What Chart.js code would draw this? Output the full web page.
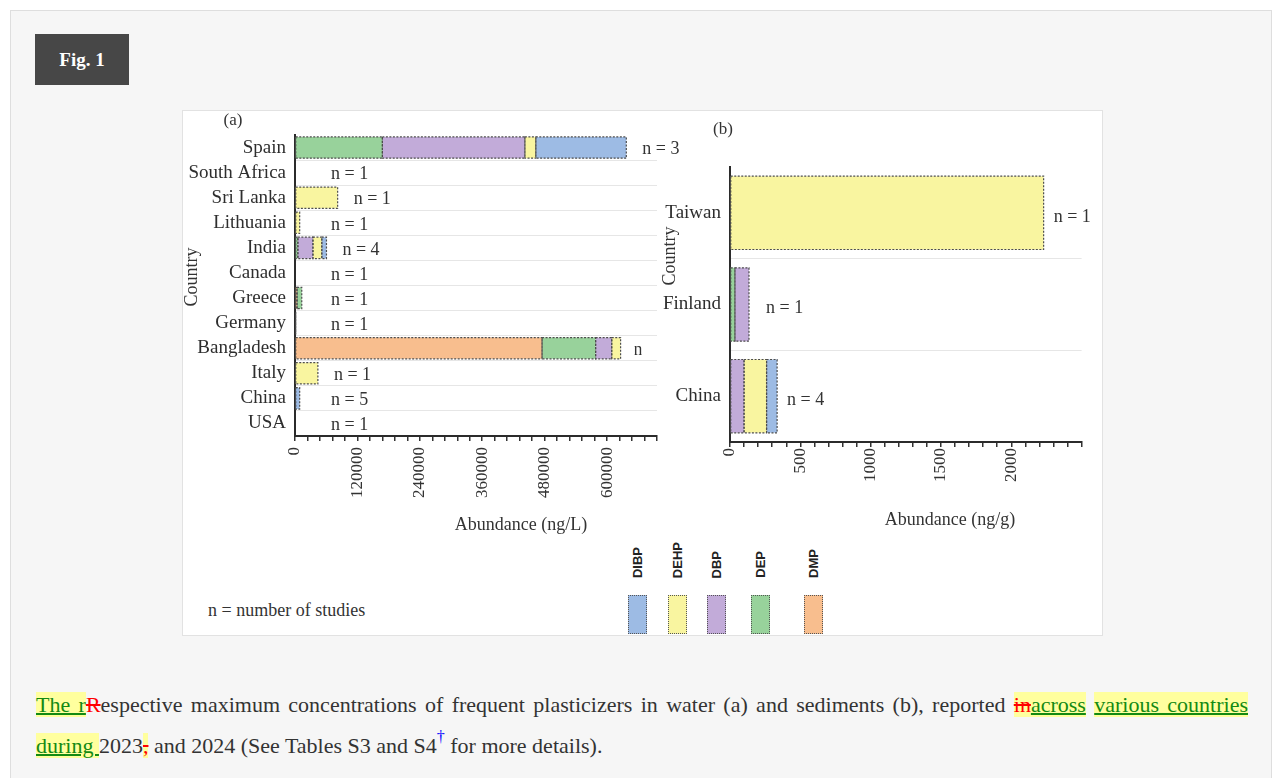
<!DOCTYPE html>
<html>
<head>
<meta charset="utf-8">
<script src="https://cdn.jsdelivr.net/npm/chart.js@4.4.1/dist/chart.umd.min.js"></script>
<style>
  body { margin: 0; background: #fff; width: 1276px; height: 778px; overflow: hidden;
         font-family: 'Liberation Serif', 'Times New Roman', serif; color: #333; }
  .frame { position: absolute; left: 10px; top: 10px; width: 1260px; height: 800px;
           background: #f6f6f6; border: 1px solid #dedede; }
  .tag { position: absolute; left: 35px; top: 34px; width: 94px; height: 51px; background: #474747;
         color: #fff; font-weight: bold; font-size: 19px; line-height: 51px; text-align: center; }
  .figure { position: absolute; left: 182px; top: 110px; width: 921px; height: 526px; background: #fff;
            border: 1px solid #e2e2e2; box-sizing: border-box; overflow: hidden; }
  #chartA { position: absolute; left: -1px; top: -1px; }
  #chartB { position: absolute; left: 469px; top: -1px; }
  .note { position: absolute; left: 25px; top: 488px; font-size: 18px; line-height: 22px; color: #333; }
  .key-label { position: absolute; top: 430px; width: 19px; height: 37px; display: flex;
               align-items: flex-end; justify-content: center; }
  .key-label span { writing-mode: vertical-rl; transform: rotate(180deg); font: bold 13px 'Liberation Sans', Arial, sans-serif; color: #222; }
  .key-box { position: absolute; top: 484px; width: 19px; height: 39px; box-sizing: border-box;
             border: 1.5px dotted #555; }
  .caption { position: absolute; left: 36px; top: 684px; width: 1212px; font-size: 22px; line-height: 41px; color: #333; }
  .caption .l1 { text-align: justify; text-align-last: justify; }
  .hl { background: #ffff9e; }
  .ins { color: #138a13; text-decoration: underline; text-decoration-thickness: 2px; }
  .del { color: #f00; text-decoration: line-through; }
  .dag { color: #00f; font-size: 16px; vertical-align: 11px; line-height: 0; }
</style>
</head>
<body>
<div class="frame"></div>
<div class="tag">Fig. 1</div>
<div class="figure" id="figure">
  <canvas id="chartA" width="520" height="430"></canvas>
  <canvas id="chartB" width="451" height="430"></canvas>
  <div class="note">n = number of studies</div>
</div>
<div class="caption">
  <div class="l1"><span class="hl ins">The r</span><span class="del">R</span>espective maximum concentrations of frequent plasticizers in water (a) and sediments (b), reported <span class="hl"><span class="del">in</span><span class="ins">across</span></span> <span class="hl ins">various countries</span></div>
  <div><span class="hl ins">during </span>2023<span class="hl del">,</span> and 2024 (See Tables S3 and S4<span class="dag">†</span> for more details).</div>
</div>
<script>
// (a) water, ng/L
const countriesA = ['Spain', 'South Africa', 'Sri Lanka', 'Lithuania', 'India', 'Canada',
                    'Greece', 'Germany', 'Bangladesh', 'Italy', 'China', 'USA'];
const dmpA  = [0, 0, 0, 0, 0, 0, 4000, 0, 475000, 0, 0, 0];
const depA  = [168000, 0, 0, 0, 5500, 0, 9000, 0, 103000, 0, 0, 0];
const dbpA  = [274000, 0, 0, 0, 29000, 0, 0, 0, 31000, 0, 0, 0];
const dehpA = [21000, 0, 82000, 9000, 17000, 0, 0, 0, 17000, 44000, 0, 0];
const dibpA = [174000, 0, 0, 0, 9000, 0, 0, 1500, 0, 0, 9000, 0];
const studiesA = [3, 1, 1, 1, 4, 1, 1, 1, null, 1, 5, 1];

// (b) sediments, ng/g
const countriesB = ['Taiwan', 'Finland', 'China'];
const dmpB  = [0, 0, 0];
const depB  = [0, 35, 0];
const dbpB  = [0, 100, 100];
const dehpB = [2230, 0, 160];
const dibpB = [0, 0, 75];
const studiesB = [1, 1, 4];

const plasticizers = ['DMP', 'DEP', 'DBP', 'DEHP', 'DIBP'];
const colors = { DMP: '#f8be8e', DEP: '#98d29b', DBP: '#c2abd9', DEHP: '#f9f5a0', DIBP: '#9dbbe4' };

const serif = (size) => size + "px 'Liberation Serif', 'Times New Roman', serif";

function makeDatasets(series, barPct) {
  return plasticizers.map((name, i) => ({
    label: name,
    data: series[i],
    backgroundColor: colors[name],
    borderWidth: 0,
    barPercentage: barPct,
    categoryPercentage: 1
  }));
}

const dottedEdges = {
  id: 'dottedEdges',
  afterDatasetsDraw(chart) {
    const ctx = chart.ctx;
    ctx.save();
    ctx.setLineDash([2, 1.5]);
    ctx.strokeStyle = '#4d4d4d';
    ctx.lineWidth = 1.2;
    chart.data.datasets.forEach((ds, i) => {
      chart.getDatasetMeta(i).data.forEach((bar, j) => {
        if (!ds.data[j]) return;
        const { x, y, base, height } = bar.getProps(['x', 'y', 'base', 'height'], true);
        ctx.strokeRect(Math.min(base, x), y - height / 2, Math.abs(x - base), height);
      });
    });
    ctx.restore();
  }
};

const studyLabels = {
  id: 'studyLabels',
  afterDatasetsDraw(chart, args, opts) {
    const ctx = chart.ctx;
    const xs = chart.scales.x;
    const ys = chart.scales.y;
    ctx.save();
    ctx.font = serif(18);
    ctx.fillStyle = '#333';
    ctx.textBaseline = 'middle';
    opts.counts.forEach((n, i) => {
      const total = chart.data.datasets.reduce((s, ds) => s + (ds.data[i] || 0), 0);
      const x = Math.max(xs.getPixelForValue(total) + opts.gap, xs.getPixelForValue(0) + opts.minGap);
      const y = ys.getPixelForValue(i) + opts.dy;
      if (n === null) {
        // label cut off in the source figure
        ctx.save();
        ctx.beginPath();
        ctx.rect(x - 2, y - 15, 7, 30);
        ctx.clip();
        ctx.fillText('n', x - 3, y);
        ctx.restore();
      } else {
        ctx.fillText('n = ' + n, x, y);
      }
    });
    ctx.restore();
  }
};

const notes = {
  id: 'notes',
  afterDraw(chart, args, opts) {
    const ctx = chart.ctx;
    opts.items.forEach((n) => {
      ctx.save();
      ctx.font = n.font;
      ctx.fillStyle = '#333';
      ctx.textAlign = 'center';
      ctx.textBaseline = 'middle';
      ctx.translate(n.x, n.y);
      if (n.rotate) ctx.rotate(n.rotate);
      ctx.fillText(n.text, 0, 0);
      ctx.restore();
    });
  }
};

function buildChart(canvas, cfg) {
  return new Chart(canvas, {
    type: 'bar',
    data: { labels: cfg.labels, datasets: makeDatasets(cfg.series, cfg.barPct) },
    plugins: [dottedEdges, studyLabels, notes],
    options: {
      indexAxis: 'y',
      responsive: false,
      animation: false,
      layout: { padding: cfg.padding },
      plugins: {
        legend: { display: false },
        tooltip: { enabled: false },
        studyLabels: cfg.studyLabels,
        notes: { items: cfg.notes }
      },
      scales: {
        x: {
          stacked: true,
          min: 0,
          max: cfg.max,
          afterFit: (s) => { s.height = cfg.xHeight; },
          border: { color: '#2b2b2b', width: 2 },
          grid: { drawOnChartArea: false, drawTicks: true, tickLength: 5, color: '#333', lineWidth: 1.5 },
          ticks: {
            stepSize: cfg.step,
            maxTicksLimit: 200,
            autoSkip: false,
            minRotation: 90,
            maxRotation: 90,
            padding: cfg.xPad,
            color: '#333',
            font: { family: "'Liberation Serif', 'Times New Roman', serif", size: 17 },
            callback: (v) => (v % cfg.major === 0 && v <= cfg.lastLabel ? String(v) : '')
          }
        },
        y: {
          stacked: true,
          afterFit: (s) => { s.width = cfg.yWidth; },
          border: { color: '#2b2b2b', width: 2 },
          grid: {
            offset: true,
            drawTicks: false,
            color: (c) => (c.index === 0 ? 'rgba(0,0,0,0)' : '#e6e6e6'),
            lineWidth: 1
          },
          ticks: {
            autoSkip: false,
            padding: 9,
            color: '#2e2e2e',
            font: { family: "'Liberation Serif', 'Times New Roman', serif", size: 19 }
          }
        }
      }
    }
  });
}

buildChart(document.getElementById('chartA'), {
  labels: countriesA,
  series: [dmpA, depA, dbpA, dehpA, dibpA],
  padding: { top: 25, right: 45, left: 0, bottom: 0 },
  barPct: 0.85,
  max: 696000, step: 24000, major: 120000, lastLabel: 600000,
  xHeight: 104, yWidth: 113, xPad: 6,
  studyLabels: { counts: studiesA, gap: 16, minGap: 36, dy: 2 },
  notes: [
    { text: '(a)', x: 51, y: 11, font: serif(17) },
    { text: 'Country', x: 10, y: 167, font: serif(18), rotate: -Math.PI / 2 },
    { text: 'Abundance (ng/L)', x: 339, y: 415, font: serif(18) }
  ]
});

buildChart(document.getElementById('chartB'), {
  labels: countriesB,
  series: [dmpB, depB, dbpB, dehpB, dibpB],
  padding: { top: 57, right: 7, left: 0, bottom: 0 },
  barPct: 0.8,
  max: 2500, step: 100, major: 500, lastLabel: 2000,
  xHeight: 98, yWidth: 78, xPad: 1,
  studyLabels: { counts: studiesB, gap: 10, minGap: 36, dy: 4 },
  notes: [
    { text: '(b)', x: 71, y: 20, font: serif(17) },
    { text: 'Country', x: 18, y: 146, font: serif(18), rotate: -Math.PI / 2 },
    { text: 'Abundance (ng/g)', x: 298, y: 410, font: serif(18) }
  ]
});

// legend, in the figure's left-to-right order
const fig = document.getElementById('figure');
const keyLeft = [445, 485, 524, 568, 621];
plasticizers.slice().reverse().forEach((name, i) => {
  const lab = document.createElement('div');
  lab.className = 'key-label';
  lab.style.left = keyLeft[i] + 'px';
  lab.innerHTML = '<span>' + name + '</span>';
  fig.appendChild(lab);
  const box = document.createElement('div');
  box.className = 'key-box';
  box.style.left = keyLeft[i] + 'px';
  box.style.background = colors[name];
  fig.appendChild(box);
});
</script>
</body>
</html>
